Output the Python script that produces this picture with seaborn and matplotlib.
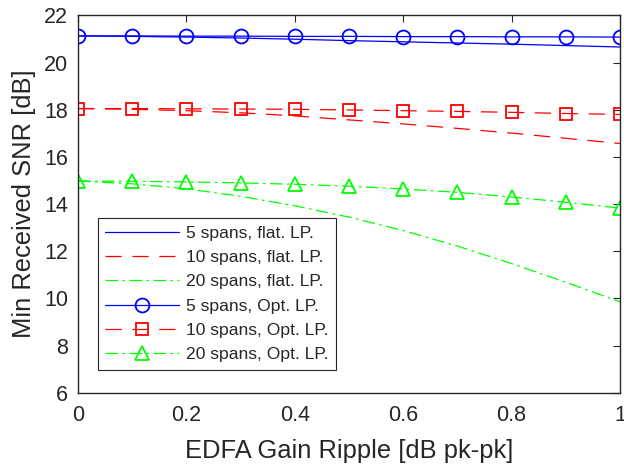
import matplotlib
matplotlib.use("Agg")
import matplotlib.pyplot as plt
import seaborn as sns
import numpy as np

# ---- data ----
ripple = [0.0, 0.1, 0.2, 0.3, 0.4, 0.5, 0.6, 0.7, 0.8, 0.9, 1.0]
snr_5_flat = [21.13, 21.11, 21.08, 21.04, 20.99, 20.93, 20.88, 20.83, 20.78, 20.72, 20.66]
snr_10_flat = [18.05, 18.02, 17.96, 17.87, 17.74, 17.57, 17.40, 17.21, 17.01, 16.79, 16.57]
snr_20_flat = [14.98, 14.86, 14.65, 14.33, 13.93, 13.45, 12.88, 12.22, 11.48, 10.69, 9.86]
snr_5_opt = [21.13, 21.13, 21.12, 21.12, 21.11, 21.11, 21.10, 21.10, 21.09, 21.09, 21.08]
snr_10_opt = [18.05, 18.05, 18.04, 18.03, 18.02, 17.99, 17.96, 17.93, 17.89, 17.84, 17.80]
snr_20_opt = [14.98, 14.97, 14.94, 14.90, 14.84, 14.76, 14.64, 14.50, 14.30, 14.08, 13.83]

labels = ["5 spans, flat. LP.", "10 spans, flat. LP.", "20 spans, flat. LP.",
          "5 spans, Opt. LP.", "10 spans, Opt. LP.", "20 spans, Opt. LP."]
xticks = [0, 0.2, 0.4, 0.6, 0.8, 1]
xticklabels = ["0", "0.2", "0.4", "0.6", "0.8", "1"]
yticks = [6, 8, 10, 12, 14, 16, 18, 20, 22]

sns.set_style("white")
plt.rcParams['font.family'] = ['Liberation Sans', 'DejaVu Sans']

fig = plt.figure(figsize=(6.24, 4.66), dpi=100)
ax = fig.add_axes([0.125, 0.157, 0.8685, 0.81])

blue, red, green = (0, 0, 1), (1, 0, 0), (0, 1, 0)
dash = (0, (13, 8.5))
dashdot = (0, (10, 3.6, 2, 3.6))
lw = 0.9

series = [
    (snr_5_flat, blue, '-', None),
    (snr_10_flat, red, dash, None),
    (snr_20_flat, green, dashdot, None),
    (snr_5_opt, blue, '-', 'o'),
    (snr_10_opt, red, dash, 's'),
    (snr_20_opt, green, dashdot, '^'),
]
for (vals, col, ls, mk), lab in zip(series, labels):
    kw = dict(color=col, linestyle=ls, linewidth=lw, label=lab)
    if mk is not None:
        kw.update(marker=mk, markersize=10 if mk != 's' else 9, markerfacecolor='none',
                  markeredgecolor=col, markeredgewidth=1.3)
    sns.lineplot(x=ripple, y=vals, ax=ax, **kw)

ax.set_xlim(0, 1)
ax.set_ylim(6, 22)
ax.set_xticks(xticks)
ax.set_xticklabels(xticklabels)
ax.set_yticks(yticks)

axcol = '#262626'
for s in ax.spines.values():
    s.set_visible(True)
    s.set_color(axcol)
    s.set_linewidth(1.0)
ax.tick_params(direction='in', length=4.8, width=0.8, colors=axcol, labelsize=15.5,
               top=True, right=True, pad=7)
ax.tick_params(axis='x', pad=9)

ax.set_xlabel("EDFA Gain Ripple [dB pk-pk]", fontsize=18.4, color=axcol, labelpad=9)
ax.set_ylabel("Min Received SNR [dB]", fontsize=18.4, color=axcol, labelpad=6)

leg = ax.legend(loc='upper left', bbox_to_anchor=(0.037, 0.463), borderaxespad=0,
                fontsize=12.6, handlelength=4.2, handletextpad=0.4, labelspacing=0.52,
                frameon=True, fancybox=False, framealpha=1, borderpad=0.42)
leg.get_frame().set_edgecolor('#262626')
leg.get_frame().set_linewidth(0.8)

fig.savefig("out.png", dpi=100)
